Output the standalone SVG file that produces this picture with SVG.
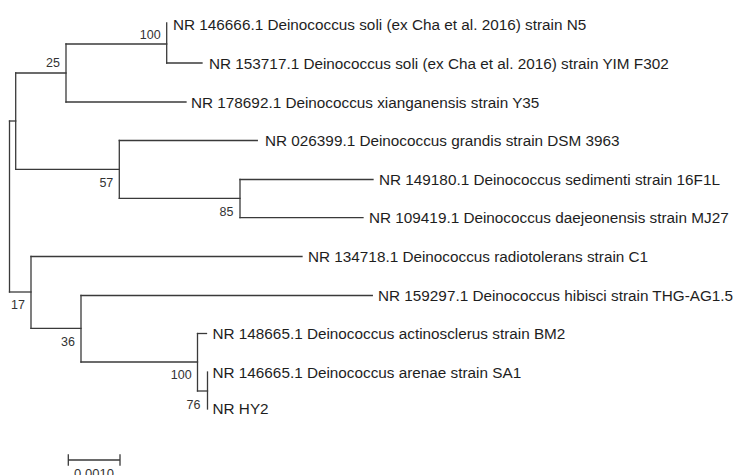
<svg xmlns="http://www.w3.org/2000/svg" width="737" height="475" viewBox="0 0 737 475">
<style>
.br{fill:none;stroke:#3a3a3a;stroke-width:1.3;stroke-linecap:square}
.leaf{font-family:"Liberation Sans",Arial,sans-serif;font-size:15.3px;fill:#1e1e1e}
.sup{font-family:"Liberation Sans",Arial,sans-serif;font-size:12.5px;fill:#333;text-anchor:end}
.sc{font-family:"Liberation Sans",Arial,sans-serif;font-size:13px;fill:#333;text-anchor:middle}
</style>
<rect width="737" height="475" fill="#fff"/>
<g id="connectors" class="br">
<path d="M9.5,121V292"/>
<path d="M9.5,121H15.7"/>
<path d="M15.7,73V169.3"/>
<path d="M15.7,73H66"/>
<path d="M66,44V102"/>
<path d="M66,44H166.7"/>
<path d="M166.7,23V63"/>
<path d="M166.7,63H202"/>
<path d="M66,102H186"/>
<path d="M15.7,169.3H119.3"/>
<path d="M119.3,140.5V198.3"/>
<path d="M119.3,140.5H257.3"/>
<path d="M119.3,198.3H240"/>
<path d="M240,179.5V217.7"/>
<path d="M240,179.5H373"/>
<path d="M240,217.7H363"/>
<path d="M9.5,292H31"/>
<path d="M31,256.5V328.3"/>
<path d="M31,256.5H302"/>
<path d="M31,328.3H81"/>
<path d="M81,295.5V362"/>
<path d="M81,295.5H372.3"/>
<path d="M81,362H197.5"/>
<path d="M197.5,333.5V391"/>
<path d="M197.5,333.5H206.5"/>
<path d="M197.5,391H207.5"/>
<path d="M207.5,372V409"/>
</g>
<g id="n25"><text class="sup" x="60" y="66.7">25</text></g>
<g id="n100a"><text class="sup" x="160.7" y="38.5">100</text></g>
<g id="n57"><text class="sup" x="113.3" y="187.3">57</text></g>
<g id="n85"><text class="sup" x="233.5" y="216">85</text></g>
<g id="n17"><text class="sup" x="25" y="309">17</text></g>
<g id="n36"><text class="sup" x="75" y="346">36</text></g>
<g id="n100b"><text class="sup" x="191.7" y="379.3">100</text></g>
<g id="n76"><text class="sup" x="200.5" y="409">76</text></g>
<g id="leaf1"><text class="leaf" x="173" y="29.5">NR 146666.1 Deinococcus soli (ex Cha et al. 2016) strain N5</text></g>
<g id="leaf2"><text class="leaf" x="209" y="68.5">NR 153717.1 Deinococcus soli (ex Cha et al. 2016) strain YIM F302</text></g>
<g id="leaf3"><text class="leaf" x="191" y="107.5">NR 178692.1 Deinococcus xianganensis strain Y35</text></g>
<g id="leaf4"><text class="leaf" x="265" y="146">NR 026399.1 Deinococcus grandis strain DSM 3963</text></g>
<g id="leaf5"><text class="leaf" x="379" y="185">NR 149180.1 Deinococcus sedimenti strain 16F1L</text></g>
<g id="leaf6"><text class="leaf" x="369" y="223">NR 109419.1 Deinococcus daejeonensis strain MJ27</text></g>
<g id="leaf7"><text class="leaf" x="308" y="262">NR 134718.1 Deinococcus radiotolerans strain C1</text></g>
<g id="leaf8"><text class="leaf" x="378" y="301">NR 159297.1 Deinococcus hibisci strain THG-AG1.5</text></g>
<g id="leaf9"><text class="leaf" x="212.5" y="339">NR 148665.1 Deinococcus actinosclerus strain BM2</text></g>
<g id="leaf10"><text class="leaf" x="212.5" y="378.3">NR 146665.1 Deinococcus arenae strain SA1</text></g>
<g id="leaf11"><text class="leaf" x="212.5" y="414.3">NR HY2</text></g>
<g id="scalebar">
<path class="br" d="M68.3,460H120M68.3,455V465M120,455V465"/>
<text class="sc" x="94" y="477.5">0.0010</text>
</g>
</svg>
